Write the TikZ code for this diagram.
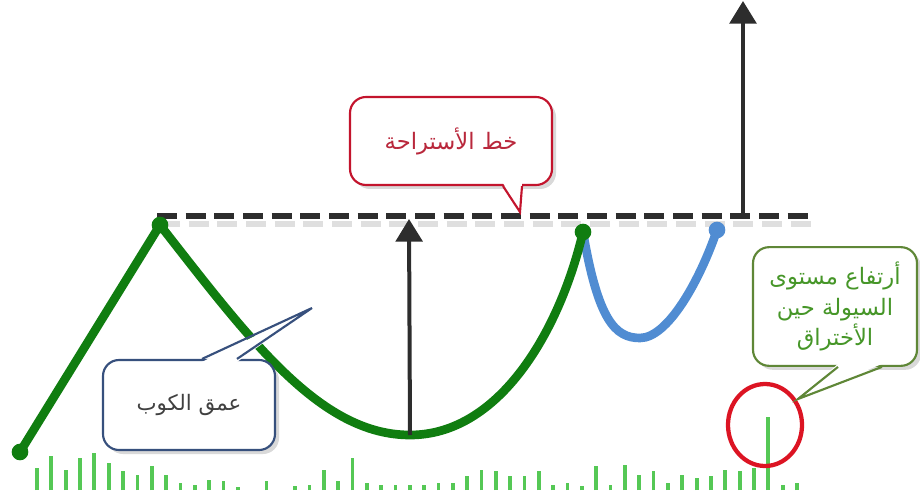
\documentclass[tikz,border=0pt]{standalone}
\usepackage{fontspec}
\usepackage{tikz}
\usetikzlibrary{arrows.meta,positioning,calc,shadows}
\newfontfamily\arabicfont[Script=Arabic]{DejaVu Sans}
\TeXXeTstate=1
\definecolor{CupGreen}{RGB}{16,125,16}
\definecolor{HandleBlue}{RGB}{80,140,210}
\definecolor{VolGreen}{RGB}{85,200,85}
\definecolor{RestRed}{RGB}{195,20,45}
\definecolor{RestText}{RGB}{185,40,60}
\definecolor{CupBlue}{RGB}{55,80,125}
\definecolor{NoteGreen}{RGB}{95,135,55}
\definecolor{NoteText}{RGB}{70,150,40}
\definecolor{ArrowGray}{RGB}{45,45,45}
\definecolor{CircleRed}{RGB}{220,20,35}

\tikzset{
  pivot/.style={circle, inner sep=0pt, minimum size=12.5pt},
  callbox/.style={draw, fill=white, line width=1.6pt, rounded corners=12pt,
    align=center, inner sep=2pt,
    drop shadow={opacity=0.3, shadow xshift=3pt, shadow yshift=-3pt}},
  tailfill/.style={fill=white},
  tailedge/.style={line width=1.6pt, line join=miter},
  cupline/.style={CupGreen, line width=6.5pt, line cap=round, line join=round},
  handleline/.style={HandleBlue, line width=6.5pt, line cap=round},
  resistance/.style={ArrowGray, line width=4.2pt, dash pattern=on 15pt off 6.5pt},
  riseArrow/.style={ArrowGray, line width=3pt, -{Triangle[width=20pt,length=17pt]}},
  volbar/.style={VolGreen, line width=2.8pt},
  ring/.style={CircleRed, line width=3.2pt}
}

\begin{document}
\begin{tikzpicture}[x=0.75pt, y=-0.75pt]
\useasboundingbox (0,0) rectangle (920,502);

% volume bars
\foreach \t [count=\i from 0] in {468,456,470,458,453,463,471,475,466,475,
    483,485,480,481,487,490,481,490,486,485,
    470,481,458,483,485,485,485,485,483,483,
    476,470,471,476,476,471,485,483,486,466,
    485,465,475,471,483,475,478,476,470,471,
    468,417,485,483}
  \draw[volbar] ({37+14.34*\i},490) -- ({37+14.34*\i},\t);

% breakout volume
\draw[ring] (765,425) ellipse [x radius=27.75pt, y radius=30.75pt];

% cup and handle
\coordinate (startPt) at (20,452);
\coordinate (lipPt) at (160,225);
\coordinate (rimPt) at (583,232);
\coordinate (handlePt) at (717,230);
\coordinate (cupLow) at (410,435);
\coordinate (handleLow) at (640,338);

\draw[handleline] (rimPt) .. controls (598,320) and (615,338) .. (handleLow)
  .. controls (668,338) and (700,280) .. (handlePt);
\draw[cupline] (startPt) -- (lipPt)
  .. controls (250,340) and (320,435) .. (cupLow)
  .. controls (500,435) and (560,330) .. (rimPt);

% resistance line
\coordinate (resStart) at (157,216);
\coordinate (resEnd) at (812,216);
\draw[resistance, gray!25, line width=5pt] ($(resStart)+(3,8)$) -- ($(resEnd)+(3,8)$);
\draw[resistance] (resStart) -- (resEnd);

\node[pivot, fill=CupGreen] (start) at (startPt) {};
\node[pivot, fill=CupGreen] (lip) at (lipPt) {};
\node[pivot, fill=CupGreen] (rim) at (rimPt) {};
\node[pivot, fill=HandleBlue] (handleEnd) at (handlePt) {};

% targets
\coordinate (depthTop) at (409,219);
\coordinate (breakBase) at (743,214);
\coordinate (breakTop) at (743,1);
\draw[riseArrow] (cupLow) -- (depthTop);
\draw[riseArrow] (breakBase) -- (breakTop);

% notes
\node[callbox, draw=RestRed, text=RestText, minimum width=151.5pt, minimum height=66pt,
      font=\arabicfont\fontsize{17}{21}\selectfont] (rest) at (451,141)
  {\beginR خط الأستراحة\endR};
\coordinate (restTip) at (520,212);
\fill[tailfill] ($(rest.south)+(52,-3)$) -- (restTip) -- ($(rest.south)+(71,-3)$) -- cycle;
\draw[tailedge, RestRed] ($(rest.south)+(52,0)$) -- (restTip) -- ($(rest.south)+(71,0)$);

\node[callbox, draw=CupBlue, text=black!75, minimum width=129pt, minimum height=67.5pt,
      font=\arabicfont\fontsize{16}{21}\selectfont] (cupNote) at (189,405)
  {\beginR عمق الكوب\endR};
\coordinate (cupTip) at (312,308);
\fill[tailfill] ($(cupNote.north)+(13,3)$) -- (cupTip) -- ($(cupNote.north)+(48,3)$) -- cycle;
\draw[tailedge, CupBlue] ($(cupNote.north)+(13,0)$) -- (cupTip) -- ($(cupNote.north)+(48,0)$);

\node[callbox, draw=NoteGreen, text=NoteText, minimum width=123pt, minimum height=89pt,
      font=\arabicfont\fontsize{17}{23}\selectfont] (volNote) at (835,306.5)
  {\beginR أرتفاع مستوى\endR\\ \beginR السيولة حين\endR\\ \beginR الأختراق\endR};
\coordinate (volTip) at (798,399);
\fill[tailfill] ($(volNote.south)+(3,-3)$) -- (volTip) -- ($(volNote.south)+(47,-3)$) -- cycle;
\draw[tailedge, NoteGreen] ($(volNote.south)+(3,0)$) -- (volTip) -- ($(volNote.south)+(47,0)$);
\end{tikzpicture}
\end{document}
